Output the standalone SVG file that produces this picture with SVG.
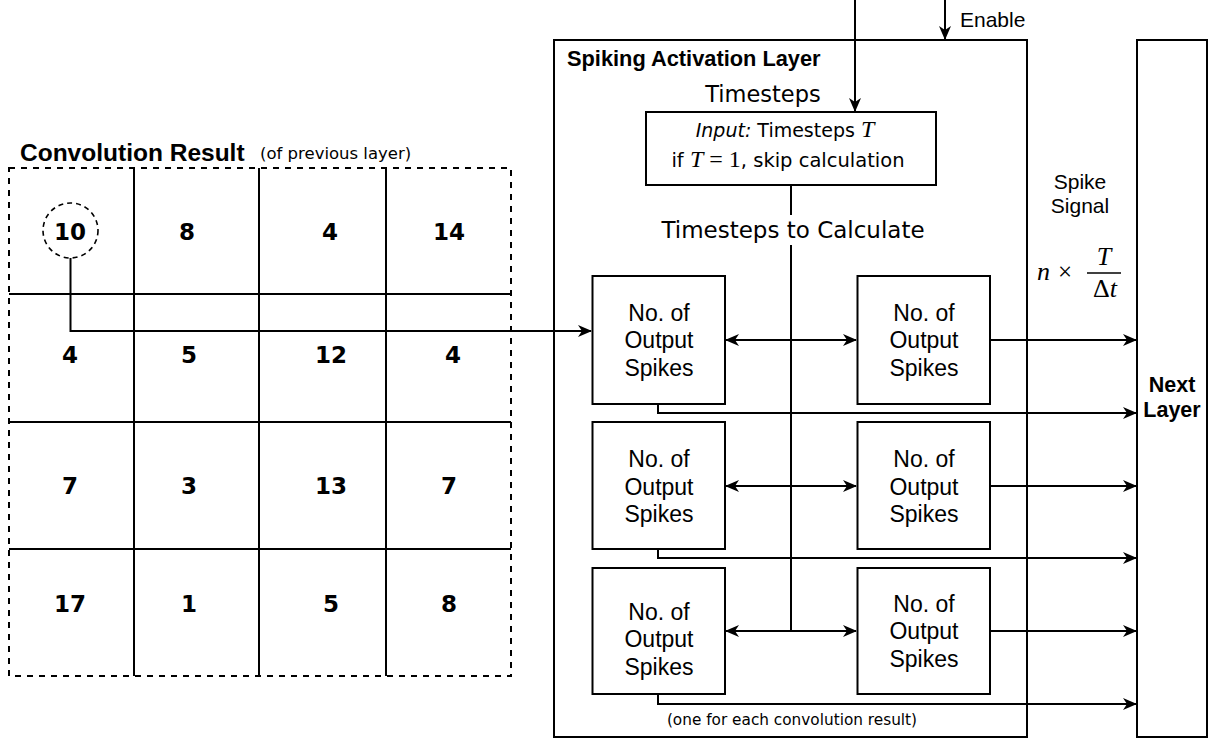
<svg xmlns="http://www.w3.org/2000/svg" width="1210" height="752" viewBox="0 0 1210 752">
  <defs>
    <marker id="arrow" markerUnits="userSpaceOnUse" markerWidth="14" markerHeight="12" viewBox="0 0 14 12" refX="13" refY="6" orient="auto">
      <path d="M0,0 L14,6 L0,12 L4,6 Z" fill="#000"/>
    </marker>
    <style>
      .ln{stroke:#000;stroke-width:2;fill:none}
      .arr{stroke:#000;stroke-width:2;fill:none;marker-end:url(#arrow)}
      .box{fill:#fff;stroke:#000;stroke-width:2}
      .frame{fill:none;stroke:#000;stroke-width:2}
      .dash{fill:none;stroke:#000;stroke-width:2;stroke-dasharray:6 6}
      .num{font-family:"DejaVu Sans",Verdana,sans-serif;font-weight:bold;font-size:23px;text-anchor:middle}
      .lbl{font-family:"Liberation Sans",Arial,sans-serif;font-size:21px}
      .cell{font-family:"Liberation Sans",Arial,sans-serif;font-size:23px;text-anchor:middle}
      .bold{font-weight:bold}
      .dv{font-family:"DejaVu Sans",Verdana,sans-serif}
      .mi{font-family:"Liberation Serif","Times New Roman",serif;font-style:italic}
      .mr{font-family:"Liberation Serif","Times New Roman",serif;font-style:normal}
    </style>
  </defs>

  <rect width="1210" height="752" fill="#fff"/>

  <!-- convolution result grid -->
  <g id="conv-grid">
    <text x="20" y="161" class="lbl bold" style="font-size:24.5px">Convolution Result</text>
    <text x="260" y="159" class="dv" style="font-size:16.5px">(of previous layer)</text>
    <rect x="9" y="168" width="502" height="508" class="dash"/>
    <path class="ln" d="M134,168 V676 M259,168 V676 M386,168 V676 M9,294 H511 M9,422 H511 M9,549 H511"/>
    <g class="num">
      <text x="70" y="240">10</text><text x="187" y="240">8</text><text x="330" y="240">4</text><text x="449" y="240">14</text>
      <text x="70" y="363">4</text><text x="189" y="363">5</text><text x="331" y="363">12</text><text x="453" y="363">4</text>
      <text x="70" y="494">7</text><text x="189" y="494">3</text><text x="331" y="494">13</text><text x="449" y="494">7</text>
      <text x="70" y="612">17</text><text x="189" y="612">1</text><text x="331" y="612">5</text><text x="449" y="612">8</text>
    </g>
    <circle cx="70.5" cy="230.5" r="27.5" fill="none" stroke="#000" stroke-width="1.6" stroke-dasharray="5 4"/>
  </g>

  <!-- spiking activation layer container -->
  <g id="spiking-layer">
    <rect x="554" y="40" width="473" height="697" class="frame"/>
    <text x="567" y="66" class="lbl bold" style="font-size:21.8px">Spiking Activation Layer</text>
    <text x="763" y="102" class="dv" style="font-size:22.5px" text-anchor="middle">Timesteps</text>
    <text x="792" y="725" class="dv" style="font-size:15.3px" text-anchor="middle">(one for each convolution result)</text>
  </g>

  <!-- next layer -->
  <g id="next-layer">
    <rect x="1137" y="40" width="70" height="697" class="box"/>
    <text class="lbl bold" style="font-size:21.5px" text-anchor="middle"><tspan x="1172" y="392">Next</tspan><tspan x="1172" y="417">Layer</tspan></text>
  </g>

  <!-- spike signal label -->
  <g id="spike-signal">
    <text class="lbl" text-anchor="middle"><tspan x="1080" y="189">Spike</tspan><tspan x="1080" y="213">Signal</tspan></text>
    <text x="1037" y="280" class="mi" style="font-size:26px">n</text>
    <text x="1058" y="280" class="mr" style="font-size:25px">×</text>
    <text x="1104" y="265" class="mi" style="font-size:26px" text-anchor="middle">T</text>
    <line x1="1087" y1="273" x2="1121" y2="273" stroke="#000" stroke-width="1.5"/>
    <text x="1105" y="297" style="font-size:26px" text-anchor="middle"><tspan class="mr">Δ</tspan><tspan class="mi">t</tspan></text>
  </g>

  <!-- connectors -->
  <g id="connectors">
    <path class="arr" d="M70.5,258 V331 H591"/>
    <path class="arr" d="M855,0 V111"/>
    <path class="arr" d="M945,0 V39"/>
    <path class="ln" d="M791,185 V215 M791,245 V631"/>
    <path class="arr" d="M791,340 H726"/>
    <path class="arr" d="M791,340 H856"/>
    <path class="arr" d="M791,486 H726"/>
    <path class="arr" d="M791,486 H856"/>
    <path class="arr" d="M791,631 H726"/>
    <path class="arr" d="M791,631 H856"/>
    <path class="arr" d="M990,340 H1136"/>
    <path class="arr" d="M990,486 H1136"/>
    <path class="arr" d="M990,631 H1136"/>
    <path class="arr" d="M658,404 V413 H1136"/>
    <path class="arr" d="M658,549 V558 H1136"/>
    <path class="arr" d="M658,694 V704 H1136"/>
  </g>

  <text x="960" y="27" class="lbl">Enable</text>
  <text x="793" y="238" class="dv" style="font-size:23px" text-anchor="middle">Timesteps to Calculate</text>

  <!-- timestep gate -->
  <g id="timesteps-box">
    <rect x="646" y="112" width="290" height="73" class="box"/>
    <text x="785" y="137" class="dv" style="font-size:19px" text-anchor="middle"><tspan font-style="italic">Input:</tspan> Timesteps <tspan class="mi" style="font-size:24px">T</tspan></text>
    <text x="788" y="167" class="dv" style="font-size:19.5px" text-anchor="middle">if <tspan class="mi" style="font-size:24px">T</tspan><tspan class="mr" style="font-size:24px"> = 1</tspan>, skip calculation</text>
  </g>

  <!-- spike counters -->
  <g id="counter-1a"><rect x="592.5" y="276" width="132.5" height="128" class="box"/>
    <text class="cell"><tspan x="659" y="320.5">No. of</tspan><tspan x="659" y="348">Output</tspan><tspan x="659" y="375.5">Spikes</tspan></text></g>
  <g id="counter-1b"><rect x="857.5" y="276" width="132.5" height="128" class="box"/>
    <text class="cell"><tspan x="924" y="320.5">No. of</tspan><tspan x="924" y="348">Output</tspan><tspan x="924" y="375.5">Spikes</tspan></text></g>
  <g id="counter-2a"><rect x="592.5" y="422" width="132.5" height="127" class="box"/>
    <text class="cell"><tspan x="659" y="467">No. of</tspan><tspan x="659" y="494.5">Output</tspan><tspan x="659" y="522">Spikes</tspan></text></g>
  <g id="counter-2b"><rect x="857.5" y="422" width="132.5" height="127" class="box"/>
    <text class="cell"><tspan x="924" y="467">No. of</tspan><tspan x="924" y="494.5">Output</tspan><tspan x="924" y="522">Spikes</tspan></text></g>
  <g id="counter-3a"><rect x="592.5" y="568" width="132.5" height="126" class="box"/>
    <text class="cell"><tspan x="659" y="619.5">No. of</tspan><tspan x="659" y="647">Output</tspan><tspan x="659" y="674.5">Spikes</tspan></text></g>
  <g id="counter-3b"><rect x="857.5" y="568" width="132.5" height="126" class="box"/>
    <text class="cell"><tspan x="924" y="611.5">No. of</tspan><tspan x="924" y="639">Output</tspan><tspan x="924" y="666.5">Spikes</tspan></text></g>
</svg>
